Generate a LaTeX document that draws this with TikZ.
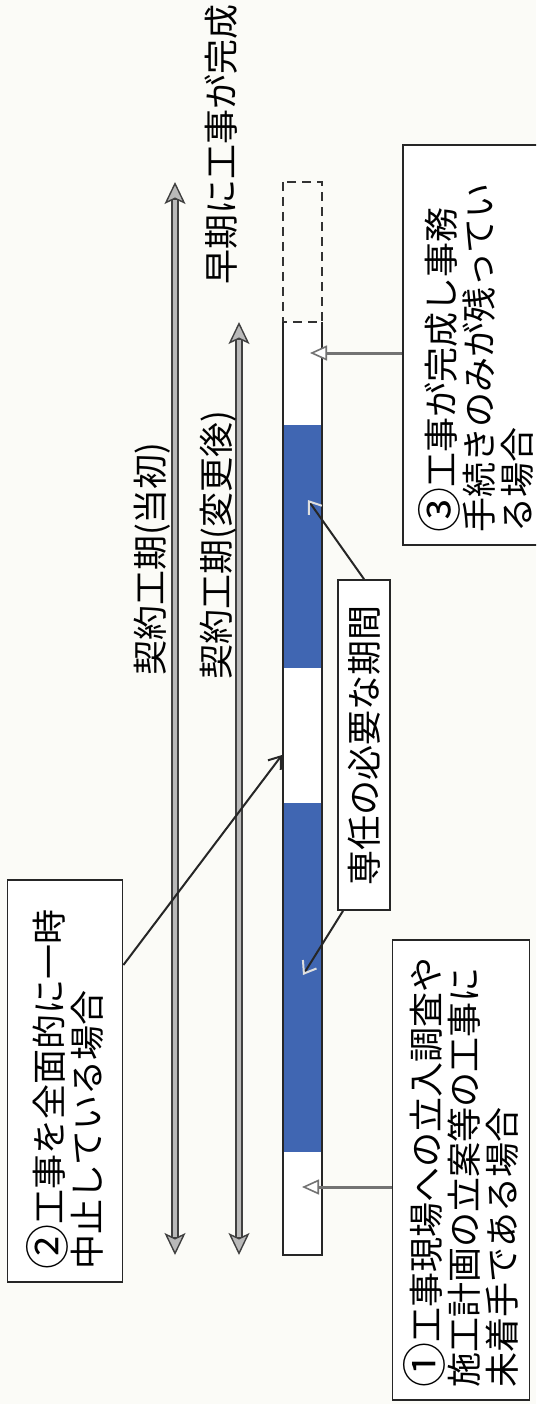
\documentclass[tikz,border=0pt]{standalone}
\usepackage{fontspec}
\usetikzlibrary{arrows.meta}
\newfontfamily\jpfont{Noto Sans CJK JP}
\newcommand{\ancho}[1]{\raisebox{-2pt}{\fontsize{45pt}{38pt}\selectfont #1}}
\definecolor{azul}{RGB}{64,102,178}
\definecolor{gris}{RGB}{115,115,115}
\definecolor{fondo}{RGB}{251,251,247}

\begin{document}
\begin{tikzpicture}[x=1pt,y=-1pt,
    texto/.style={rotate=90,font=\jpfont\fontsize{35pt}{38pt}\selectfont,inner sep=0pt},
    caja/.style={texto,draw=black!85,line width=1.8pt,fill=white,align=left,inner xsep=13pt},
    periodo/.style={line width=8pt,black!75,{Stealth[length=22pt,width=21pt,inset=5pt,fill=gray!55,line width=1.4pt]}-{Stealth[length=22pt,width=21pt,inset=5pt,fill=gray!55,line width=1.4pt]}},
    relleno/.style={line width=3.5pt,gray!55,shorten <=18pt,shorten >=18pt},
    flechagris/.style={gris,line width=3pt,-{Triangle[length=17pt,width=15pt,fill=white,line width=1.6pt]}},
    flechanegra/.style={black!85,line width=2pt,-{Straight Barb[length=11pt,width=16pt,line width=2pt]}},
    flechaclara/.style={black!85,line width=2pt,-{Straight Barb[length=11pt,width=16pt,line width=2pt,color=gray!25]}}]
    \useasboundingbox (0,0) rectangle (536,1404);
    \clip (0,0) rectangle (536,1404);
    \fill[fondo] (0,0) rectangle (536,1404);

    % Periodos
    \coordinate (a1) at (175,182);
    \coordinate (b1) at (175,1255);
    \coordinate (a2) at (239,322);
    \coordinate (b2) at (239,1255);
    \draw[periodo] (b1) -- (a1);
    \draw[relleno] (b1) -- (a1);
    \draw[periodo] (b2) -- (a2);
    \draw[relleno] (b2) -- (a2);
    \node[texto] (inicial) at (152,559) {契約工期(当初)};
    \node[texto] (cambio) at (218,545) {契約工期(変更後)};
    \node[texto] (temprano) at (221,145) {早期に工事が完成};

    % Barra
    \fill[white] (283,322) rectangle (322,1255);
    \fill[azul] (283,425) rectangle (322,668);
    \fill[azul] (283,803) rectangle (322,1152);
    \draw[black!80,line width=1.8pt,dash pattern=on 9pt off 6pt] (283,182) rectangle (322,322);
    \draw[black!85,line width=2.2pt] (283,322) -- (283,1255) -- (322,1255) -- (322,322);

    % Cajas
    \node[caja,minimum width=400pt,minimum height=146pt,text width=374pt] (caja3) at (476,345)
        {\ancho{③}工事が完成し事務\\手続きのみが残ってい\\る場合};
    \node[caja,minimum width=460pt,minimum height=137pt,text width=434pt] (caja1) at (461,1170)
        {\ancho{①}工事現場への立入調査や\\施工計画の立案等の工事に\\未着手である場合};
    \node[caja,minimum width=402pt,minimum height=115pt,text width=376pt] (caja2) at (65,1081)
        {\ancho{②}工事を全面的に一時\\中止している場合};
    \node[caja,align=center,inner xsep=0pt,minimum width=330pt,minimum height=52pt] (esp) at (364,745)
        {専任の必要な期間};

    % Flechas
    \coordinate (p3) at (310,353);
    \coordinate (p1) at (302,1187);
    \coordinate (p2) at (282,755);
    \coordinate (q1) at (308,500);
    \coordinate (q2) at (303,975);
    \draw[flechagris] (caja3.north |- p3) -- (p3);
    \draw[flechagris] (caja1.north |- p1) -- (p1);
    \draw[flechanegra] (caja2.south) ++(0,-116) -- (p2);
    \draw[flechaclara] (esp.east) -- (q1);
    \draw[flechaclara] (esp.west) ++(-21,0) -- (q2);
\end{tikzpicture}
\end{document}
